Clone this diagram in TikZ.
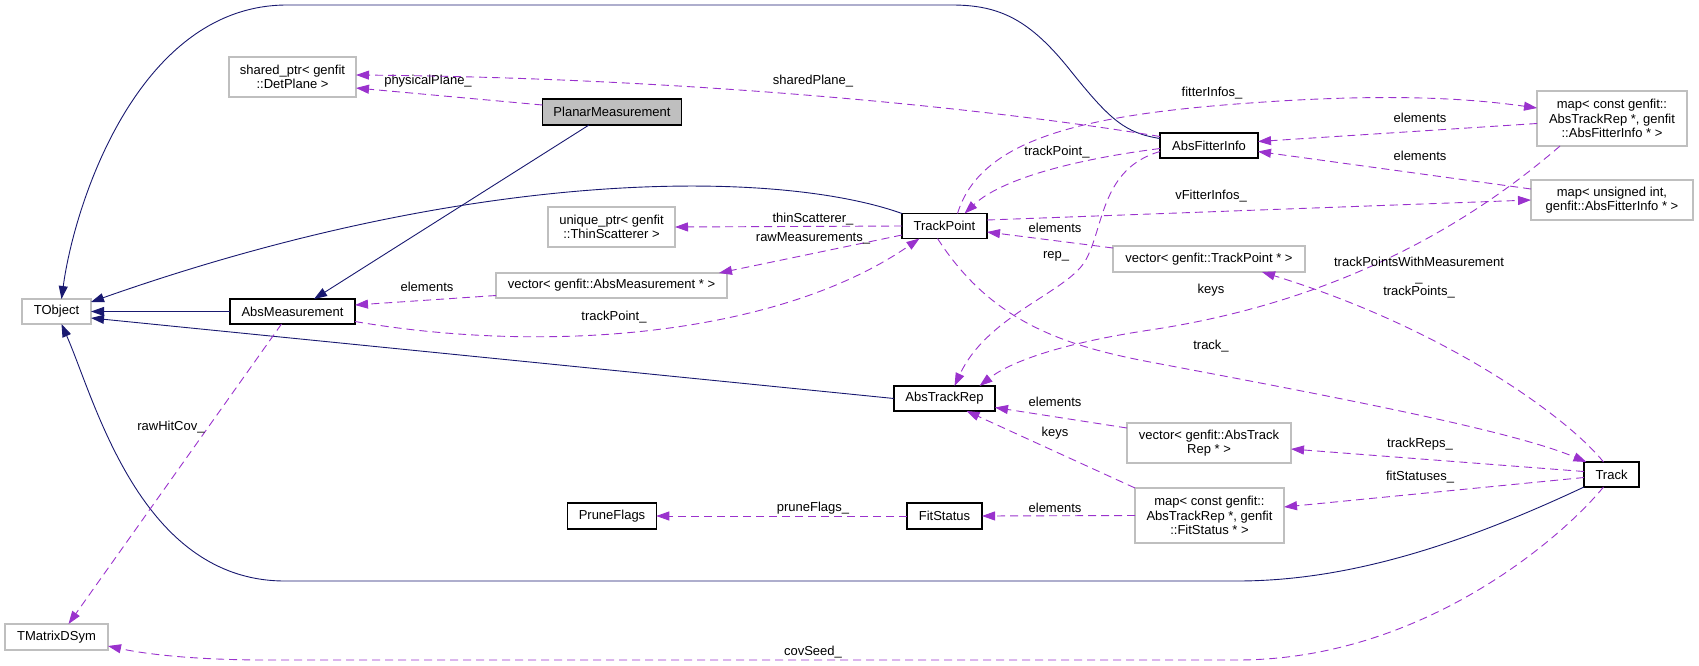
\documentclass[tikz,border=0pt]{standalone}
\usepackage{fontspec}
\setmainfont{Liberation Sans}
\usetikzlibrary{arrows.meta}
\definecolor{inhColor}{HTML}{191970}
\definecolor{usesColor}{HTML}{9A32CD}
\definecolor{extColor}{HTML}{BFBFBF}
\tikzset{
	cls/.style={draw, line width=1.1pt, inner sep=2pt, outer sep=0, align=center},
	ext/.style={cls, draw=extColor},
	inh/.style={draw=inhColor, line width=0.9pt, -{Triangle[length=13pt,width=9pt]}},
	uses/.style={draw=usesColor, line width=0.9pt, dash pattern=on 8pt off 5pt, -{Triangle[length=13pt,width=9pt]}},
	lab/.style={inner sep=0pt, align=center}
}

\begin{document}
\begin{tikzpicture}[x=1pt, y=-1pt, font=\fontsize{13}{14.5}\selectfont]
	\useasboundingbox (0,0) rectangle (1699,665);

	% classes
	\node[ext, minimum width=69pt, minimum height=25pt] (tobj) at (56.5,311.5) {TObject};
	\node[ext, minimum width=103pt, minimum height=26pt] (tmat) at (56.5,637) {TMatrixDSym};
	\node[ext, minimum width=127pt, minimum height=40pt] (shared) at (292.5,77) {shared\_ptr< genfit\\::DetPlane >};
	\node[cls, fill=extColor, minimum width=139pt, minimum height=26pt] (planar) at (612,112) {PlanarMeasurement};
	\node[cls, minimum width=125pt, minimum height=25pt] (absmeas) at (292.5,311.5) {AbsMeasurement};
	\node[ext, minimum width=127pt, minimum height=40pt] (unique) at (611.5,227) {unique\_ptr< genfit\\::ThinScatterer >};
	\node[ext, minimum width=231pt, minimum height=25pt] (vecmeas) at (611.5,285.5) {vector< genfit::AbsMeasurement * >};
	\node[cls, minimum width=85pt, minimum height=25pt] (tp) at (944.5,226) {TrackPoint};
	\node[cls, minimum width=98pt, minimum height=25pt] (fitinfo) at (1209,145.5) {AbsFitterInfo};
	\node[ext, minimum width=192pt, minimum height=26pt] (vectp) at (1209,259) {vector< genfit::TrackPoint * >};
	\node[ext, minimum width=150pt, minimum height=55pt] (mapfi) at (1612,118.5) {map< const genfit::\\AbsTrackRep *, genfit\\::AbsFitterInfo * >};
	\node[ext, minimum width=162pt, minimum height=40pt] (mapvfi) at (1612,200) {map< unsigned int,\\genfit::AbsFitterInfo * >};
	\node[cls, minimum width=101pt, minimum height=25pt] (rep) at (944.5,398.5) {AbsTrackRep};
	\node[ext, minimum width=164pt, minimum height=40pt] (vecrep) at (1209,443) {vector< genfit::AbsTrack\\Rep * >};
	\node[ext, minimum width=149pt, minimum height=55pt] (mapfs) at (1209.5,515.5) {map< const genfit::\\AbsTrackRep *, genfit\\::FitStatus * >};
	\node[cls, minimum width=75pt, minimum height=26pt] (fitstat) at (944.5,516) {FitStatus};
	\node[cls, minimum width=88.5pt, minimum height=26pt] (prune) at (612,516) {PruneFlags};
	\node[cls, minimum width=55pt, minimum height=25pt] (track) at (1611.5,474.5) {Track};

	% inheritance
	\draw[inh] ([xshift=-23pt]planar.south) -- ([xshift=21.5pt]absmeas.north);
	\draw[inh] (absmeas.west) -- (tobj.east);
	\draw[inh] (tp.north west) .. controls (780,170) and (480,165) .. ([yshift=-3pt]tobj.north east);
	\draw[inh] ([yshift=7pt]fitinfo.west) .. controls (1125,133) and (1110,120) .. (1070,70)
		.. controls (1030,20) and (1000,5) .. (952,5) -- (287,5)
		.. controls (140,5) and (75,200) .. ([xshift=5pt]tobj.north);
	\draw[inh] (rep.west) -- ([yshift=-6.5pt]tobj.east);
	\draw[inh] (track.south west) .. controls (1450,550) and (1340,581) .. (1237,581) -- (285,581)
		.. controls (140,581) and (95,400) .. ([xshift=5pt]tobj.south);

	% members
	\draw[uses] ([yshift=7pt]planar.west) -- ([yshift=-11pt]shared.east)
		node[lab, at={(428,81)}] {physicalPlane\_};
	\draw[uses] ([yshift=9pt]fitinfo.west) .. controls (1000,110) and (700,78) .. ([yshift=2pt]shared.east)
		node[lab, at={(813,81)}] {sharedPlane\_};
	\draw[uses] (tp.west) -- (unique.east)
		node[lab, at={(813,219)}] {thinScatterer\_};
	\draw[uses] ([yshift=-9pt]tp.west) -- ([xshift=-8pt]vecmeas.north east)
		node[lab, at={(813,238)}] {rawMeasurements\_};
	\draw[uses] ([yshift=-10pt]vecmeas.west) -- ([yshift=6.5pt]absmeas.east)
		node[lab, at={(427,287)}] {elements};
	\draw[uses] ([yshift=-10pt]absmeas.east) .. controls (550,355) and (780,335) .. ([xshift=-25pt]tp.south)
		node[lab, at={(614,317)}] {trackPoint\_};
	\draw[uses] ([yshift=-3pt]fitinfo.west) .. controls (1070,160) and (1000,180) .. ([xshift=20pt]tp.north)
		node[lab, at={(1057,152)}] {trackPoint\_};
	\draw[uses] ([xshift=13pt]tp.north) .. controls (980,140) and (1080,115) .. (1250,103)
		.. controls (1400,92) and (1480,100) .. (mapfi.west |- 0,108)
		node[lab, at={(1212,93)}] {fitterInfos\_};
	\draw[uses] ([yshift=-5pt]mapfi.west) -- ([yshift=4pt]fitinfo.east)
		node[lab, at={(1420,118)}] {elements};
	\draw[uses] ([yshift=11pt]mapvfi.west) -- ([yshift=-6pt]fitinfo.east)
		node[lab, at={(1420,156)}] {elements};
	\draw[uses] ([yshift=6pt]tp.east) -- (mapvfi.west)
		node[lab, at={(1211,196)}] {vFitterInfos\_};
	\draw[uses] ([yshift=11pt]vectp.west) -- ([yshift=-6pt]tp.east)
		node[lab, at={(1055,228)}] {elements};
	\draw[uses] ([yshift=-6pt]fitinfo.west) .. controls (1095,170) and (1105,240) .. (1080,268)
		.. controls (1055,296) and (985,320) .. ([xshift=10pt]rep.north)
		node[lab, at={(1056,256)}] {rep\_};
	\draw[uses] ([xshift=-52pt]mapfi.south) .. controls (1480,215) and (1350,300) .. (1150,330)
		.. controls (1060,343.5) and (1010,362) .. ([xshift=35pt]rep.north)
		node[lab, at={(1211,290)}] {keys};
	\draw[uses] ([xshift=-7pt]tp.south) .. controls (990,320) and (1060,345) .. (1150,362)
		.. controls (1330,396) and (1510,430) .. ([xshift=-25pt]track.north)
		node[lab, at={(1211,346)}] {track\_};
	\draw[uses] ([xshift=-8pt]track.north) .. controls (1570,420) and (1450,330) .. ([xshift=53pt]vectp.south)
		node[lab, at={(1419,278)}] {trackPointsWithMeasurement\\\_\\trackPoints\_};
	\draw[uses] ([yshift=3pt]track.west) -- ([yshift=-6pt]vecrep.east)
		node[lab, at={(1420,444)}] {trackReps\_};
	\draw[uses] ([yshift=-3pt]track.west) -- ([yshift=8.5pt]mapfs.east)
		node[lab, at={(1420,477)}] {fitStatuses\_};
	\draw[uses] ([yshift=15pt]vecrep.west) -- ([yshift=-9pt]rep.east)
		node[lab, at={(1055,402)}] {elements};
	\draw[uses] (mapfs.north west) -- ([xshift=22pt]rep.south)
		node[lab, at={(1055,433)}] {keys};
	\draw[uses] (mapfs.west) -- (fitstat.east)
		node[lab, at={(1055,508)}] {elements};
	\draw[uses] (fitstat.west) -- (prune.east)
		node[lab, at={(813,508)}] {pruneFlags\_};
	\draw[uses] ([xshift=-11pt]absmeas.south) -- ([xshift=12pt]tmat.north)
		node[lab, at={(171,427)}] {rawHitCov\_};
	\draw[uses] ([xshift=-8pt]track.south) .. controls (1560,540) and (1420,660) .. (1237,660) -- (268,660)
		.. controls (200,660) and (150,655) .. ([yshift=-9pt]tmat.east)
		node[lab, at={(813,652)}] {covSeed\_};
\end{tikzpicture}
\end{document}
